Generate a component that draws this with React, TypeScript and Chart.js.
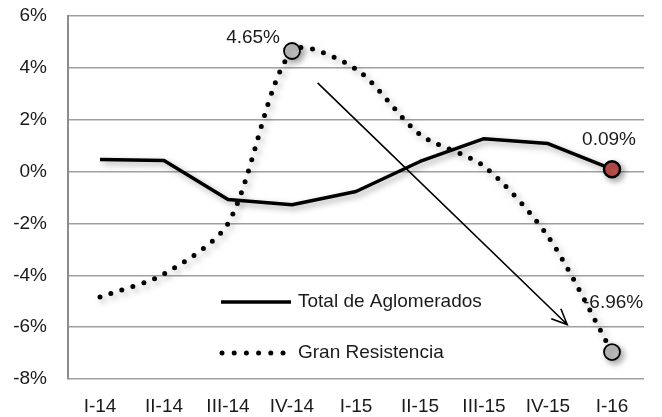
import React, { useEffect, useRef } from "react";
import { Chart, registerables } from "chart.js";

Chart.register(...registerables);

const categories = ["I-14", "II-14", "III-14", "IV-14", "I-15", "II-15", "III-15", "IV-15", "I-16"];
const totalAglomerados = [0.47, 0.43, -1.08, -1.28, -0.77, 0.39, 1.27, 1.08, 0.09];
const granResistencia = [-4.84, -3.95, -2.0, 4.65, 3.95, 1.43, 0.2, -2.5, -6.96];
const seriesNames = ["Total de Aglomerados", "Gran Resistencia"];
const yTicks = { min: -8, max: 6, step: 2 };
// arrow annotation endpoints in data coordinates (category index, percent)
const arrowFrom = { x: 3.4, y: 3.42 };
const arrowTo = { x: 7.3, y: -5.9 };
// labelled points: [datasetIndex, pointIndex, text]
const pointLabels: [number, number, string][] = [
  [1, 3, "4.65%"],
  [0, 8, "0.09%"],
  [1, 8, "-6.96%"],
];

const FONT = "'Liberation Sans', Arial, sans-serif";
const FONT_SIZE = 19;

const shadowPlugin = {
  id: "shadow",
  beforeDatasetDraw(chart: any) {
    const ctx = chart.ctx;
    ctx.save();
    ctx.shadowColor = "rgba(0,0,0,0.35)";
    ctx.shadowBlur = 6;
    ctx.shadowOffsetX = 3;
    ctx.shadowOffsetY = 3;
  },
  afterDatasetDraw(chart: any) {
    chart.ctx.restore();
  },
};

const annotationPlugin = {
  id: "annot",
  afterDatasetsDraw(chart: any) {
    const ctx = chart.ctx;
    const xs = chart.scales.x;
    const ys = chart.scales.y;
    // arrow
    const x1 = xs.getPixelForValue(arrowFrom.x);
    const y1 = ys.getPixelForValue(arrowFrom.y);
    const x2 = xs.getPixelForValue(arrowTo.x);
    const y2 = ys.getPixelForValue(arrowTo.y);
    ctx.save();
    ctx.strokeStyle = "#000";
    ctx.lineWidth = 1.6;
    ctx.beginPath();
    ctx.moveTo(x1, y1);
    ctx.lineTo(x2, y2);
    const ang = Math.atan2(y2 - y1, x2 - x1);
    const hl = 17;
    const spread = 0.42;
    ctx.moveTo(x2 - hl * Math.cos(ang - spread), y2 - hl * Math.sin(ang - spread));
    ctx.lineTo(x2, y2);
    ctx.lineTo(x2 - hl * Math.cos(ang + spread), y2 - hl * Math.sin(ang + spread));
    ctx.stroke();
    ctx.restore();

    // point labels
    ctx.save();
    ctx.fillStyle = "#1a1a1a";
    ctx.font = `${FONT_SIZE}px ${FONT}`;
    ctx.textBaseline = "middle";
    pointLabels.forEach(([di, pi, text]) => {
      const el = chart.getDatasetMeta(di).data[pi];
      if (!el) return;
      if (di === 1 && pi === 3) {
        ctx.textAlign = "right";
        ctx.fillText(text, el.x - 12, el.y - 13);
      } else if (di === 0) {
        ctx.textAlign = "center";
        ctx.fillText(text, el.x - 3, el.y - 29);
      } else {
        ctx.textAlign = "left";
        ctx.fillText(text, el.x - 29, el.y - 49);
      }
    });
    ctx.restore();

    // legend
    ctx.save();
    const lx0 = 221;
    const tx = 298;
    const ly1 = 302;
    const ly2 = 353;
    ctx.strokeStyle = "#000";
    ctx.lineWidth = 3.5;
    ctx.beginPath();
    ctx.moveTo(lx0, ly1);
    ctx.lineTo(291, ly1);
    ctx.stroke();
    ctx.fillStyle = "#000";
    for (let i = 0; i < 6; i++) {
      ctx.beginPath();
      ctx.arc(lx0 + 1 + i * 12.2, ly2, 2.5, 0, Math.PI * 2);
      ctx.fill();
    }
    ctx.fillStyle = "#1a1a1a";
    ctx.font = `${FONT_SIZE}px ${FONT}`;
    ctx.textAlign = "left";
    ctx.textBaseline = "middle";
    ctx.fillText(seriesNames[0], tx, ly1);
    ctx.fillText(seriesNames[1], tx, ly2);
    ctx.restore();
  },
};

export default function App() {
  const ref = useRef<HTMLCanvasElement>(null);

  useEffect(() => {
    if (!ref.current) return;
    const chart = new Chart(ref.current, {
      type: "line",
      data: {
        labels: categories,
        datasets: [
          {
            label: seriesNames[0],
            data: totalAglomerados,
            borderColor: "#000",
            borderWidth: 3.5,
            tension: 0,
            borderJoinStyle: "round",
            pointRadius: totalAglomerados.map((_, i) => (i === 8 ? 8 : 0)),
            pointBackgroundColor: "#C0504D",
            pointBorderColor: "#000",
            pointBorderWidth: 2.5,
            fill: false,
          },
          {
            label: seriesNames[1],
            data: granResistencia,
            borderColor: "#000",
            borderWidth: 5,
            borderDash: [0, 11.5],
            borderCapStyle: "round",
            tension: 0.28,
            cubicInterpolationMode: "default",
            pointRadius: granResistencia.map((_, i) => (i === 3 || i === 8 ? 8 : 0)),
            pointBackgroundColor: "#BFBFBF",
            pointBorderColor: "#000",
            pointBorderWidth: 1.8,
            fill: false,
          },
        ],
      },
      options: {
        animation: false,
        responsive: true,
        maintainAspectRatio: false,
        layout: { padding: { left: 0, right: 18, top: 16, bottom: 0 } },
        plugins: {
          legend: { display: false },
          tooltip: { enabled: false },
        },
        scales: {
          x: {
            offset: true,
            grid: { display: false, drawTicks: false, offset: true },
            border: { display: false },
            ticks: {
              color: "#1a1a1a",
              font: { family: FONT, size: FONT_SIZE },
              padding: 16,
              maxRotation: 0,
            },
            afterFit(scale: any) {
              scale.height = 38;
              scale.paddingLeft = 0;
              scale.paddingRight = 0;
            },
          },
          y: {
            min: yTicks.min,
            max: yTicks.max,
            grid: { color: "#A0A0A0", lineWidth: 1.5, drawTicks: false },
            border: { display: true, color: "#8C8C8C", width: 2 },
            ticks: {
              stepSize: yTicks.step,
              color: "#1a1a1a",
              font: { family: FONT, size: FONT_SIZE },
              padding: 21,
              callback: (v: any) => `${v}%`,
            },
            afterFit(scale: any) {
              scale.width = 68;
              scale.paddingTop = 0;
              scale.paddingBottom = 0;
            },
          },
        },
      },
      plugins: [shadowPlugin, annotationPlugin],
    });
    return () => chart.destroy();
  }, []);

  return (
    <div style={{ position: "fixed", left: 0, top: 0, width: 662, height: 417, background: "#fff" }}>
      <canvas ref={ref} />
    </div>
  );
}
